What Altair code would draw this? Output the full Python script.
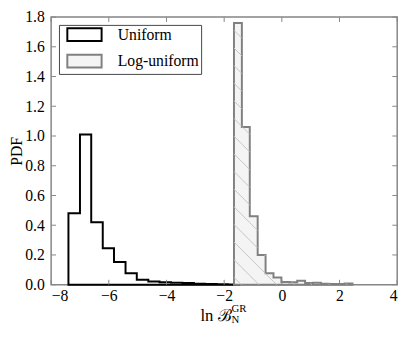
import altair as alt
import numpy as np
import pandas as pd

# ---- data ----
uni_edges = [-7.40, -7.00, -6.61, -6.21, -5.82, -5.42, -5.03, -4.63, -4.24,
             -3.84, -3.45, -3.05, -2.66, -2.26, -1.87, -1.47]
uni_heights = [0.48, 1.01, 0.42, 0.245, 0.152, 0.077, 0.033, 0.021, 0.016,
               0.014, 0.011, 0.007, 0.004, 0.003, 0.002]

log_edges = [-1.66, -1.386, -1.112, -0.838, -0.564, -0.29, -0.016, 0.258,
             0.532, 0.806, 1.08, 1.354, 1.628, 1.902, 2.176, 2.45]
log_heights = [1.76, 1.06, 0.46, 0.20, 0.077, 0.048, 0.018, 0.016, 0.026,
               0.011, 0.014, 0.007, 0.004, 0.004, 0.008]

series_names = ["Uniform", "Log-uniform"]
x_ticks = [-8, -6, -4, -2, 0, 2, 4]
y_ticks = [0.0, 0.2, 0.4, 0.6, 0.8, 1.0, 1.2, 1.4, 1.6, 1.8]

# ---- layout ----
W, H = 353, 273
XMIN, XMAX = -8, 4
YMIN, YMAX = 0, 1.8
FONT = "Liberation Serif"
FRAME = "#858585"
TICK = 5


def step_frame(edges, heights, name):
    xs = list(edges[:-1]) + [edges[-1]]
    ys = list(heights) + [heights[-1]]
    return pd.DataFrame({"x": xs, "y": ys, "series": name})


uni_df = step_frame(uni_edges, uni_heights, series_names[0])
log_df = step_frame(log_edges, log_heights, series_names[1])

# hatch segments ("\\" lines at 45 degrees in pixel space) inside log-uniform bins
kx = W / (XMAX - XMIN)
ky = H / (YMAX - YMIN)
spacing = 18
segs = []
for c in np.arange(-W, H + spacing, spacing):
    for a, b, h in zip(log_edges[:-1], log_edges[1:], log_heights):
        lo = max(a, ((YMAX - h) * ky - c) / kx + XMIN)
        hi = min(b, (YMAX * ky - c) / kx + XMIN)
        if hi - lo > 1e-6:
            y_lo = YMAX - ((lo - XMIN) * kx + c) / ky
            y_hi = YMAX - ((hi - XMIN) * kx + c) / ky
            segs.append({"x": lo, "x2": hi, "y": y_lo, "y2": y_hi})
hatch_df = pd.DataFrame(segs)

sx = alt.Scale(domain=[XMIN, XMAX], nice=False, zero=False)
sy = alt.Scale(domain=[YMIN, YMAX], nice=False, zero=True)

stroke_scale = alt.Scale(domain=series_names, range=["#000000", "#808080"])
fill_scale = alt.Scale(domain=series_names, range=["rgba(255,255,255,0)", "#f4f4f4"])

x_axis = alt.Axis(values=x_ticks, format="d", title=None, labelPadding=3,
                  labelFont=FONT, labelFontSize=16)
y_axis = alt.Axis(values=y_ticks, format=".1f", title="PDF",
                  labelPadding=7, titlePadding=0, titleFontSize=16,
                  labelFont=FONT, labelFontSize=16,
                  titleFont=FONT, titleFontWeight="normal", titleColor="black")


def X(field):
    return alt.X(field, scale=sx, axis=x_axis)


def Y(field):
    return alt.Y(field, scale=sy, axis=y_axis)


def area_layer(df):
    return alt.Chart(df).mark_area(
        interpolate="step-after", strokeWidth=2, strokeJoin="miter", opacity=1
    ).encode(
        x=X("x:Q"), y=Y("y:Q"),
        stroke=alt.Stroke("series:N", scale=stroke_scale, legend=alt.Legend(title=None)),
        fill=alt.Fill("series:N", scale=fill_scale, legend=alt.Legend(title=None)),
    )


uni_layer = area_layer(uni_df)
log_layer = area_layer(log_df)

hatch = alt.Chart(hatch_df).mark_rule(color="#c4c4c4", strokeWidth=1).encode(
    x=X("x:Q"), x2="x2:Q", y=Y("y:Q"), y2="y2:Q",
)

xt_df = pd.DataFrame({"x": x_ticks})
yt_df = pd.DataFrame({"y": y_ticks})
tick_x_bottom = alt.Chart(xt_df).mark_rule(color=FRAME, strokeWidth=1).encode(
    x=X("x:Q"), y=alt.value(H), y2=alt.value(H - TICK))
tick_x_top = alt.Chart(xt_df).mark_rule(color=FRAME, strokeWidth=1).encode(
    x=X("x:Q"), y=alt.value(0), y2=alt.value(TICK))
tick_y_left = alt.Chart(yt_df).mark_rule(color=FRAME, strokeWidth=1).encode(
    y=Y("y:Q"), x=alt.value(0), x2=alt.value(TICK))
tick_y_right = alt.Chart(yt_df).mark_rule(color=FRAME, strokeWidth=1).encode(
    y=Y("y:Q"), x=alt.value(W), x2=alt.value(W - TICK))

# x-axis title: ln B_N^GR
t_main = alt.Chart(pd.DataFrame({"s": ["ln ℬ"]})).mark_text(
    align="right", baseline="alphabetic", font=FONT, fontSize=17, color="black"
).encode(text="s:N", x=alt.value(184), y=alt.value(H + 37))
t_sup = alt.Chart(pd.DataFrame({"s": ["GR"]})).mark_text(
    align="left", baseline="alphabetic", font=FONT, fontSize=11, color="black"
).encode(text="s:N", x=alt.value(184), y=alt.value(H + 28))
t_sub = alt.Chart(pd.DataFrame({"s": ["N"]})).mark_text(
    align="left", baseline="alphabetic", font=FONT, fontSize=11, color="black"
).encode(text="s:N", x=alt.value(184), y=alt.value(H + 39))

chart = alt.layer(
    uni_layer, log_layer, hatch,
    tick_x_bottom, tick_x_top, tick_y_left, tick_y_right,
    t_main, t_sup, t_sub,
).properties(
    width=W, height=H,
    autosize=alt.AutoSizeParams(type="none"),
    padding={"left": 44, "top": 6, "right": 10, "bottom": 45},
).configure(
    font=FONT
).configure_view(
    stroke=FRAME, strokeWidth=1.5
).configure_axis(
    labelFont=FONT, labelFontSize=16, labelColor="black",
    grid=False, ticks=False, domain=False,
).configure_legend(
    orient="none", legendX=8, legendY=8,
    strokeColor="#444444", fillColor="white", padding=2, cornerRadius=0,
    symbolType="M-2.69,-1H2.69V1H-2.69Z", symbolSize=169, symbolStrokeWidth=2,
    symbolOffset=16, labelOffset=26, labelFont=FONT, labelFontSize=16,
    labelColor="black", rowPadding=5,
)

chart.save("out.html", embed_options={"renderer": "svg", "actions": False})
